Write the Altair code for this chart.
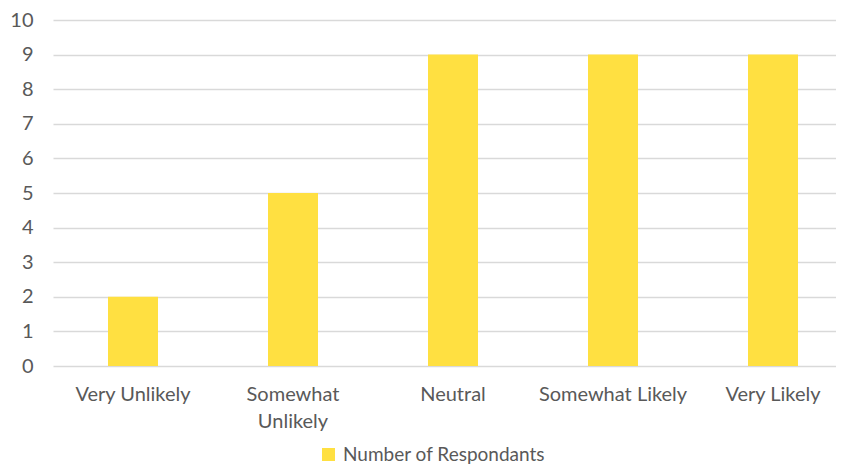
import altair as alt
import pandas as pd

categories = ["Very Unlikely", "Somewhat Unlikely", "Neutral", "Somewhat Likely", "Very Likely"]
values = [2, 5, 9, 9, 9]
series_name = "Number of Respondants"
y_ticks = [0, 1, 2, 3, 4, 5, 6, 7, 8, 9, 10]

df = pd.DataFrame({"category": categories, "value": values, "series": [series_name] * len(categories)})

FONT = "Lato"
GRAY = "#595959"
BAR = "#FFE041"
FS = 20

chart = alt.Chart(df).mark_bar(size=50).encode(
    x=alt.X(
        "category:N", sort=categories, title=None,
        scale=alt.Scale(range=[0, 800], paddingInner=0, paddingOuter=0),
        axis=alt.Axis(
            labelAngle=0, domain=False, ticks=False, labelPadding=18,
            labelFontSize=FS, labelColor=GRAY, labelFont=FONT, labelLineHeight=27,
            labelLimit=300,
            labelExpr="datum.label == 'Somewhat Unlikely' ? ['Somewhat', 'Unlikely'] : datum.label",
        ),
    ),
    y=alt.Y(
        "value:Q", title=None,
        scale=alt.Scale(domain=[0, 10], nice=False),
        axis=alt.Axis(
            values=y_ticks, grid=True, gridColor="#d9d9d9", gridWidth=1.3,
            domain=False, ticks=False, labelPadding=20,
            labelFontSize=FS, labelColor=GRAY, labelFont=FONT,
        ),
    ),
    color=alt.Color(
        "series:N", scale=alt.Scale(range=[BAR]),
        legend=alt.Legend(
            title=None, orient="none", legendX=266, legendY=425,
            symbolType="square", symbolSize=169, symbolStrokeWidth=0,
            labelFontSize=19, labelColor=GRAY, labelFont=FONT, labelOffset=5,
            labelLimit=400, padding=0,
        ),
    ),
).properties(
    width=783, height=346,
    autosize=alt.AutoSizeParams(type="none"),
    padding={"left": 45, "top": 12, "right": 0, "bottom": 100},
).configure_view(stroke=None)

chart.save("out.html", embed_options={"renderer": "svg", "actions": False})
